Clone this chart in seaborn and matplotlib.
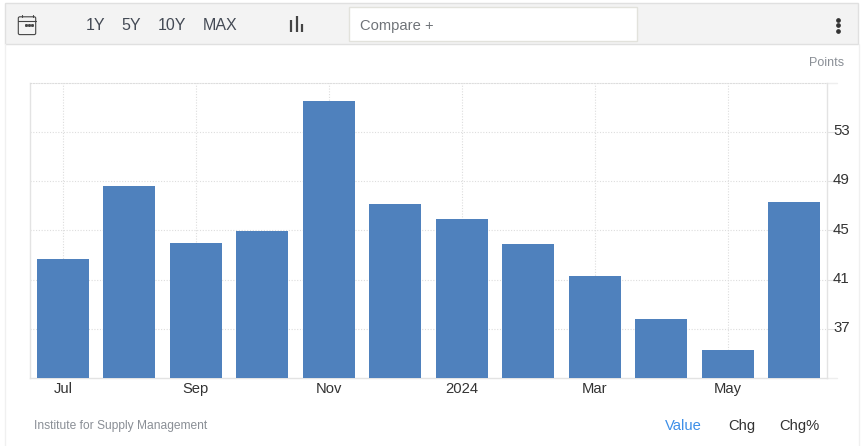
import pandas as pd
import matplotlib
matplotlib.use('Agg')
import matplotlib.pyplot as plt
from matplotlib.patches import Rectangle, FancyBboxPatch
from matplotlib.transforms import ScaledTranslation
import seaborn as sns

months = ['Jul', 'Aug', 'Sep', 'Oct', 'Nov', 'Dec', '2024', 'Feb', 'Mar', 'Apr', 'May', 'Jun']
values = [42.7, 48.6, 44.0, 44.9, 55.5, 47.1, 45.9, 43.9, 41.3, 37.8, 35.3, 47.3]
shown_months = ['Jul', 'Sep', 'Nov', '2024', 'Mar', 'May']
y_ticks = [37, 41, 45, 49, 53]
range_buttons = ['1Y', '5Y', '10Y', 'MAX']
range_x = [95.5, 131.5, 172, 220]
footer_tabs = ['Value', 'Chg', 'Chg%']
footer_x = [683.5, 741.5, 799]
footer_colors = ['#3d8fe8', '#333333', '#333333']

W, H = 861, 446
GRID = '#e3e3e3'
TEXT = '#333333'
MUTED = '#8a8f96'

sns.set_theme(style='white')
plt.rcParams['font.family'] = ['Liberation Sans', 'DejaVu Sans']

fig = plt.figure(figsize=(W / 100, H / 100), dpi=100)

# page chrome in pixel coordinates
bg = fig.add_axes([0, 0, 1, 1], zorder=0)
bg.set_xlim(0, W)
bg.set_ylim(H, 0)
bg.axis('off')
bg.plot([4.5, 4.5], [44, H], color='#f0f0f0', lw=1)
bg.plot([859, 859], [44, H], color='#f0f0f0', lw=1)
bg.add_patch(Rectangle((4.5, 3), 853.5, 41, fc='#f3f3f3', ec='#e0e0e0', lw=1))
bg.add_patch(Rectangle((349, 7), 287.5, 33.5, fc='white', ec='#e2e2dc', lw=1))
bg.text(360, 26, 'Compare +', fontsize=10.6, color='#6f7378', va='center')
for label, x in zip(range_buttons, range_x):
    bg.text(x, 25.5, label, fontsize=11.5, color='#444a55', ha='center', va='center')

# calendar icon
bg.add_patch(FancyBboxPatch((18.3, 16.8), 17.4, 17.8, boxstyle='round,pad=0,rounding_size=1.5',
                            fc='none', ec='#444444', lw=0.8))
bg.plot([18.3, 35.7], [20.5, 20.5], color='#444444', lw=0.8)
bg.plot([21.5, 21.5], [15, 17], color='#444444', lw=0.8)
bg.plot([32.5, 32.5], [15, 17], color='#444444', lw=0.8)
bg.plot([26, 29, 31.7], [24.7, 24.7, 24.7], ls='none', marker='s', ms=1.1, color='#444444')

# chart type icon
for x, top in zip([291, 296.8, 302.3], [20, 15.7, 24]):
    bg.plot([x, x], [top, 31.7], color='#444444', lw=1.6, solid_capstyle='butt')

# menu dots
bg.plot([838, 838, 838], [20, 25, 30.7], ls='none', marker='o', ms=2.4, color='#333333')

bg.text(844.5, 62.5, 'Points', fontsize=9, color=MUTED, ha='right', va='center')
bg.text(34.5, 425.5, 'Institute for Supply Management', fontsize=8.65, color=MUTED, va='center')
for label, x, c in zip(footer_tabs, footer_x, footer_colors):
    bg.text(x, 426, label, fontsize=10.6, color=c, ha='center', va='center')

# main chart
ax = fig.add_axes([29.7 / W, 1 - 378 / H, 797.8 / W, 295.5 / H], zorder=1)
ax.patch.set_alpha(0)
df = pd.DataFrame({'month': months, 'value': values})
sns.barplot(data=df, x='month', y='value', color='#4f81bd', saturation=1, width=0.78,
            linewidth=0, ax=ax, zorder=3)
ax.set_xlim(-0.5, 11.5)
ax.set_ylim(33, 57)
ax.set_xlabel('')
ax.set_ylabel('')

ax.set_xticks([months.index(m) for m in shown_months], shown_months)
ax.yaxis.tick_right()
ax.set_yticks(y_ticks)
ax.tick_params(axis='x', length=0, pad=3, labelsize=10.6, labelcolor=TEXT)
ax.tick_params(axis='y', length=7, width=0.8, color=GRID, pad=-3, labelsize=10.8, labelcolor=TEXT)
# labels sit slightly above their gridline
nudge = ScaledTranslation(0, 0.5 / 100, fig.dpi_scale_trans)
for lab in ax.get_yticklabels():
    lab.set_verticalalignment('center')
    lab.set_horizontalalignment('left')
    lab.set_transform(lab.get_transform() + nudge)

ax.grid(True, axis='both', color='#dddddd', lw=0.8, ls=(0, (1, 1.5)), zorder=0)
ax.set_axisbelow(True)

for side in ['left', 'right', 'bottom']:
    ax.spines[side].set_color(GRID)
    ax.spines[side].set_linewidth(1)
ax.spines['top'].set_visible(True)
ax.spines['top'].set_color('#dddddd')
ax.spines['top'].set_linewidth(0.8)
ax.spines['top'].set_linestyle((0, (1, 1.5)))

# axis lines run a little past the plot on the right
bg.plot([827, 837], [378.3, 378.3], color='#eeeeee', lw=1)
bg.plot([827, 837], [82.5, 82.5], color='#eeeeee', lw=1)

fig.savefig('out.png', dpi=100)
